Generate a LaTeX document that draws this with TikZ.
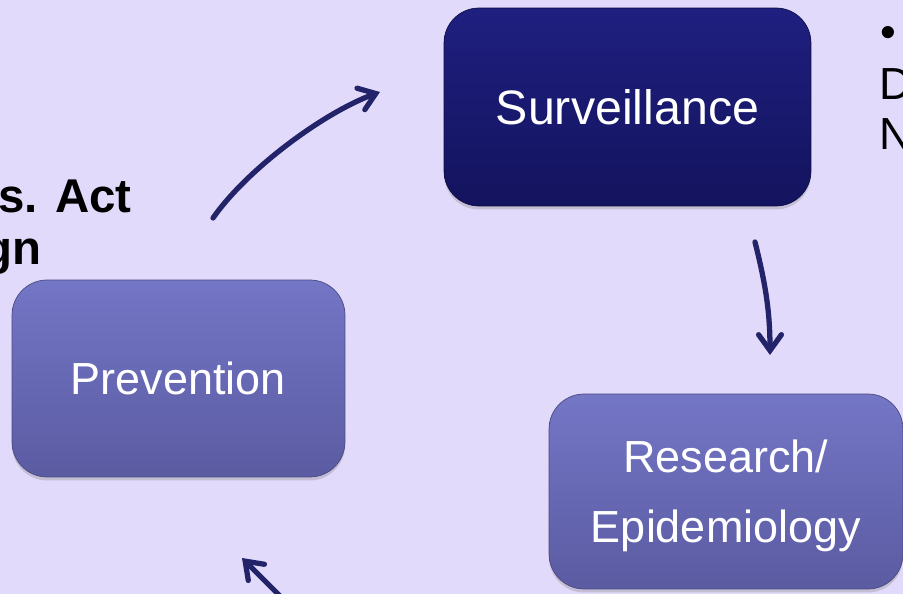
\documentclass[tikz,border=0pt]{standalone}
\usepackage{fontspec}
\setmainfont{Liberation Sans}
\usetikzlibrary{arrows.meta,shadows}
\definecolor{bgcol}{RGB}{226,218,250}
\definecolor{survtop}{RGB}{31,31,128}
\definecolor{survbot}{RGB}{19,19,94}
\definecolor{boxtop}{RGB}{116,118,198}
\definecolor{boxbot}{RGB}{91,91,162}
\definecolor{arrcol}{RGB}{35,35,105}
\begin{document}
\begin{tikzpicture}[x=0.02cm,y=-0.02cm]
\fill[bgcol] (0,0) rectangle (903,594);
\useasboundingbox (0,0) rectangle (903,594);
\clip (0,0) rectangle (903,594);
\begin{scope}[every node/.style={rounded corners=0.7cm,inner sep=0pt,text=white,
              align=center,text depth=0pt,
              font=\fontsize{25.6}{39.8}\selectfont,
              drop shadow={shadow xshift=0pt,shadow yshift=-2pt,opacity=0.3}}]
    \node[minimum width=7.34cm,minimum height=3.96cm,draw=survbot!70!black,
          top color=survtop,bottom color=survbot,
          font=\fontsize{27.5}{39.8}\selectfont] (surv) at (627.5,107) {Surveillance};
    \node[minimum width=6.66cm,minimum height=3.94cm,draw=boxbot!80!black,
          top color=boxtop,bottom color=boxbot] (prev) at (178.5,378.5) {Prevention};
    \node[minimum width=7.08cm,minimum height=3.90cm,draw=boxbot!80!black,
          top color=boxtop,bottom color=boxbot] (res) at (726,491.5) {Research/\\Epidemiology};
\end{scope}
\begin{scope}[every node/.style={inner sep=0pt,text=black}]
    \node[anchor=base east,font=\bfseries\fontsize{27}{30}\selectfont] (act) at (132,213) {ns. Act};
    \node[anchor=base east,font=\bfseries\fontsize{27}{30}\selectfont] (gn) at (42,265) {gn};
    \node[anchor=base west,font=\fontsize{25.6}{30}\selectfont] (bul) at (880,48) {•};
    \node[anchor=base west,font=\fontsize{25.6}{30}\selectfont] (dl) at (879,100) {D};
    \node[anchor=base west,font=\fontsize{25.6}{30}\selectfont] (nl) at (879,150) {N};
\end{scope}
\coordinate (up0) at (213,218);
\coordinate (up1) at (380,92);
\coordinate (dn0) at (755,242);
\coordinate (dn1) at (770,355);
\coordinate (bk0) at (300,616);
\coordinate (bk1) at (242,558);
\begin{scope}[every path/.style={draw=arrcol,line width=3pt,line cap=round,
              -{Straight Barb[length=9pt,width=13pt,line cap=round]}}]
    % cycle arrows
    \draw (up0) .. controls +(35,-50) and +(-55,20) .. (up1);
    \draw (dn0) .. controls +(10,40) and +(0,-45) .. (dn1);
    \draw (bk0) -- (bk1);
\end{scope}
\end{tikzpicture}
\end{document}
